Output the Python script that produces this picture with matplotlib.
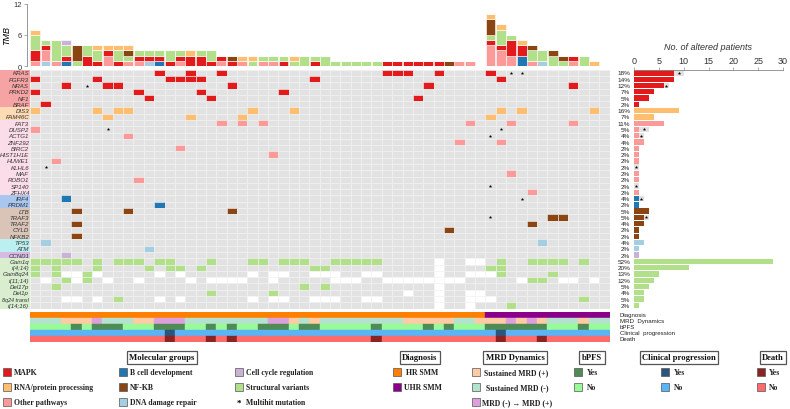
"""
Oncoprint of SMM patients: TMB, altered genes / structural variants, clinical tracks
"""
import matplotlib.pyplot as plt
from matplotlib.patches import Rectangle

plt.rcParams['font.family'] = ['Liberation Sans', 'DejaVu Sans']

W, H = 790, 410
fig = plt.figure(figsize=(7.9, 4.1), dpi=100, facecolor='white')


def px_axes(x0, y0, x1, y1):
    # box in pixels (origin top-left) -> figure axes
    return fig.add_axes([x0 / W, 1 - y1 / H, (x1 - x0) / W, (y1 - y0) / H])


# ---------------- data ----------------
n_patients = 56

genes = ['KRAS', 'FGFR3', 'NRAS', 'PRKD2', 'NF1', 'BRAF',
         'DIS3', 'FAM46C',
         'FAT3', 'DUSP2', 'ACTG1', 'ZNF292', 'BIRC2', 'HIST1H1E', 'HUWE1',
         'KLHL6', 'MAF', 'ROBO1', 'SP140', 'ZFHX4',
         'IRF4', 'PRDM1',
         'LTB', 'TRAF3', 'TRAF2', 'CYLD', 'NFKB2',
         'TP53', 'ATM',
         'CCND1',
         'Gain1q', 't(4;14)', 'Gain8q24', 't(11;14)', 'Del17p', 'Del1p',
         '8q24 transl', 't(14;16)']
gene_group = (['MAPK'] * 6 + ['RNA'] * 2 + ['Other'] * 12 + ['Bcell'] * 2 +
              ['NFKB'] * 5 + ['DNA'] * 2 + ['Cycle'] + ['SV'] * 8)

pct_labels = ['18%', '14%', '12%', '7%', '5%', '2%', '16%', '7%', '11%', '5%',
              '4%', '4%', '2%', '2%', '2%', '2%', '2%', '2%', '2%', '2%',
              '4%', '2%', '5%', '5%', '4%', '2%', '2%', '4%', '2%', '2%',
              '52%', '20%', '13%', '12%', '5%', '4%', '5%', '2%']

# altered patients (column index) per gene
hits = {
    'KRAS': [12, 15, 18, 34, 35, 36, 39, 44],
    'FGFR3': [0, 6, 13, 14, 15, 16, 27, 45],
    'NRAS': [3, 7, 8, 19, 38, 52],
    'PRKD2': [0, 10, 16, 24],
    'NF1': [11, 17, 37],
    'BRAF': [1],
    'DIS3': [0, 6, 8, 9, 21, 25, 45, 47, 54],
    'FAM46C': [7, 15, 20, 44],
    'FAT3': [18, 20, 22, 42, 46, 52],
    'DUSP2': [0],
    'ACTG1': [9],
    'ZNF292': [41, 45],
    'BIRC2': [14],
    'HIST1H1E': [23],
    'HUWE1': [2],
    'KLHL6': [],
    'MAF': [46],
    'ROBO1': [10],
    'SP140': [],
    'ZFHX4': [48],
    'IRF4': [3],
    'PRDM1': [12],
    'LTB': [4, 9, 19],
    'TRAF3': [50, 51],
    'TRAF2': [4, 48],
    'CYLD': [40],
    'NFKB2': [4],
    'TP53': [1, 49],
    'ATM': [11],
    'CCND1': [3],
    'Gain1q': [0, 1, 2, 3, 4, 6, 8, 9, 10, 12, 13, 17, 21, 22, 24, 25, 26,
               29, 30, 31, 32, 33, 45, 48, 49, 50, 51, 53],
    't(4;14)': [0, 2, 6, 11, 13, 14, 16, 27, 28, 44, 45],
    'Gain8q24': [0, 2, 5, 45, 50],
    't(11;14)': [3, 5, 48, 49],
    'Del17p': [2, 26, 28],
    'Del1p': [17, 23],
    '8q24 transl': [8, 53],
    't(14;16)': [46],
}

# multihit mutations: gene -> {patient: number of hits}
multihit = {
    'KRAS': {46: 3, 47: 2},
    'NRAS': {5: 2},
    'DUSP2': {7: 2, 45: 2},
    'ACTG1': {44: 2},
    'KLHL6': {1: 2},
    'SP140': {44: 2},
    'IRF4': {47: 2},
    'TRAF3': {44: 3},
}

# patients not evaluated (white cells)
not_tested = {
    'Gain1q': [39, 42, 43],
    't(4;14)': [39],
    'Gain8q24': [3, 4, 6, 12, 14, 21, 23, 24, 27, 28, 29, 32, 33, 39, 42, 43, 44],
    't(11;14)': [1, 4, 7, 10, 15, 17, 18, 19, 20, 23, 29, 30, 31, 34, 35, 36,
                 37, 38, 39, 40, 41, 47, 51, 52, 54],
    'Del17p': [39],
    'Del1p': [36, 39, 42, 43],
    '8q24 transl': [3, 4, 6, 12, 14, 21, 23, 24, 27, 28, 29, 32, 33, 39, 42, 43, 44],
    't(14;16)': [39, 42],
}

# clinical annotations
diagnosis = ['HR'] * 44 + ['UHR'] * 12
mrd = (['N'] * 3 + ['P'] * 3 + ['C'] + ['N'] * 3 + ['P'] * 2 + ['C'] * 3 +
       ['N'] * 8 + ['C'] * 2 + ['P', 'N', 'P'] + ['N'] * 8 + ['P'] * 5 +
       ['N'] * 2 + ['P'] * 3 + ['C', 'P', 'C', 'P'] + ['N'] * 3 + ['P'] + ['N'] * 2)
bpfs_yes = [4, 6, 7, 8, 12, 13, 14, 17, 19, 22, 23, 24, 26, 27, 33, 38, 40,
            44, 45, 46, 47, 48, 49, 53]
progression_yes = [13, 45]
death_yes = [13, 17, 19, 33, 45, 49]

# ---------------- styles ----------------
GROUP_COLOR = {'MAPK': '#E31A1C', 'RNA': '#FDBF6F', 'Other': '#FB9A99',
               'Bcell': '#1F78B4', 'NFKB': '#8B4513', 'DNA': '#A6CEE3',
               'Cycle': '#CAB2D6', 'SV': '#B2DF8A'}
GROUP_BAND = {'MAPK': '#F5A3A3', 'RNA': '#FCDAB4', 'Other': '#FBDDEA',
              'Bcell': '#A9C6EE', 'NFKB': '#D9C4B7', 'DNA': '#BCEFEF',
              'Cycle': '#D8B9E4', 'SV': '#D8EECF'}
TMB_ORDER = ['DNA', 'Other', 'Bcell', 'MAPK', 'SV', 'NFKB', 'RNA', 'Cycle']
BG = '#E2E2E2'
DIAG_COLOR = {'HR': '#FF7F00', 'UHR': '#8B008B'}
MRD_COLOR = {'P': '#FFCBA4', 'N': '#B3E2CF', 'C': '#DDA0DD'}
BPFS = ('#4E8B55', '#98FB98')
PROG = ('#2B557A', '#5AB4F8')
DEATH = ('#8B2323', '#FF6B6B')

n_genes = len(genes)
GX0, GX1, GY0, GY1 = 30, 609.5, 70.8, 309.5
XLIM = (-0.5, n_patients - 0.5)

# ---------------- TMB stacked bars ----------------
ax_tmb = px_axes(GX0, 4.5, GX1, 67)
tmb = {g: [0] * n_patients for g in TMB_ORDER}
for gene, grp in zip(genes, gene_group):
    for c in hits[gene]:
        tmb[grp][c] += 1
    for c, n in multihit.get(gene, {}).items():
        tmb[grp][c] += n
bottom = [0] * n_patients
for grp in TMB_ORDER:
    ax_tmb.bar(range(n_patients), tmb[grp], bottom=bottom, width=0.96,
               color=GROUP_COLOR[grp], edgecolor='white', linewidth=0.4)
    bottom = [b + v for b, v in zip(bottom, tmb[grp])]
ax_tmb.set_xlim(*XLIM)
ax_tmb.set_ylim(0, 12)
ax_tmb.set_yticks([0, 6, 12])
ax_tmb.set_xticks([])
for s in ['top', 'right', 'bottom']:
    ax_tmb.spines[s].set_visible(False)
ax_tmb.spines['left'].set_position(('outward', 2))
ax_tmb.spines['left'].set_color('#888888')
ax_tmb.spines['left'].set_linewidth(0.6)
ax_tmb.tick_params(axis='y', labelsize=5.5, length=2, width=0.5,
                   color='#888888', pad=1.5, labelcolor='#333333')
ax_tmb.set_ylabel('TMB', style='italic', fontsize=6.5, labelpad=2)
ax_tmb.patch.set_visible(False)

# ---------------- main grid ----------------
ax_g = px_axes(GX0, GY0, GX1, GY1)
ax_g.set_xlim(*XLIM)
ax_g.set_ylim(n_genes - 0.5, -0.5)
ax_g.axis('off')
for r, (gene, grp) in enumerate(zip(genes, gene_group)):
    na = not_tested.get(gene, [])
    mh = multihit.get(gene, {})
    for c in range(n_patients):
        face = BG
        if c in na:
            face = 'white'
        if c in hits[gene]:
            face = GROUP_COLOR[grp]
        ax_g.add_patch(Rectangle((c - 0.5, r - 0.5), 1, 1, facecolor=face,
                                 edgecolor='#F2F2F2', linewidth=0.4))
    for c in mh:
        ax_g.plot(c, r, marker='*', ms=2.6, color='black', mew=0)
    ax_g.text(n_patients + 1.5, r, pct_labels[r], ha='right', va='center',
              fontsize=4.6, color='#222222', clip_on=False)

# gene labels with group bands
ax_l = px_axes(0, GY0, GX0, GY1)
ax_l.set_xlim(0, 1)
ax_l.set_ylim(n_genes - 0.5, -0.5)
ax_l.axis('off')
for r, (gene, grp) in enumerate(zip(genes, gene_group)):
    ax_l.axhspan(r - 0.5, r + 0.5, color=GROUP_BAND[grp], lw=0)
    ax_l.text(0.97, r, gene, ha='right', va='center',
              fontsize=4.0 if len(gene) > 8 else 4.4,
              style='italic', color='#333333')

# ---------------- altered patients bar chart ----------------
ax_b = px_axes(634, GY0, 783, GY1)
single = [len(hits[g]) for g in genes]
multi = [len(multihit.get(g, {})) for g in genes]
colors = [GROUP_COLOR[g] for g in gene_group]
ax_b.barh(range(n_genes), single, height=0.85, color=colors)
ax_b.barh(range(n_genes), multi, left=single, height=0.85, color=BG)
for r, (s, m) in enumerate(zip(single, multi)):
    if m:
        ax_b.plot(s + m / 2, r, marker='*', ms=2.6, color='black', mew=0)
ax_b.set_xlim(0, 30)
ax_b.set_ylim(n_genes - 0.5, -0.5)
ax_b.set_xticks(range(0, 31, 5))
ax_b.set_yticks([])
ax_b.xaxis.set_ticks_position('top')
ax_b.xaxis.set_label_position('top')
for s in ['bottom', 'left', 'right']:
    ax_b.spines[s].set_visible(False)
ax_b.spines['top'].set_color('#888888')
ax_b.spines['top'].set_linewidth(0.6)
ax_b.tick_params(axis='x', labelsize=6.5, length=2, width=0.5,
                 color='#888888', pad=1.5, labelcolor='#333333')
ax_b.set_xlabel('No. of altered patients', style='italic', fontsize=6.5,
                labelpad=5, color='#333333')
ax_b.patch.set_visible(False)

# ---------------- clinical tracks ----------------
ax_a = px_axes(GX0, 312.5, GX1, 343)
ax_a.set_xlim(*XLIM)
ax_a.set_ylim(4.5, -0.5)
ax_a.axis('off')
tracks = [
    [DIAG_COLOR[d] for d in diagnosis],
    [MRD_COLOR[m] for m in mrd],
    [BPFS[0] if c in bpfs_yes else BPFS[1] for c in range(n_patients)],
    [PROG[0] if c in progression_yes else PROG[1] for c in range(n_patients)],
    [DEATH[0] if c in death_yes else DEATH[1] for c in range(n_patients)],
]
track_names = ['Diagnosis', 'MRD  Dynamics', 'bPFS', 'Clinical  progression', 'Death']
for r, row in enumerate(tracks):
    for c, col in enumerate(row):
        ax_a.add_patch(Rectangle((c - 0.5, r - 0.5), 1, 1, facecolor=col,
                                 edgecolor=col, linewidth=0.3))
    ax_a.text(n_patients + 0.5, r, track_names[r], ha='left', va='center',
              fontsize=4.4, color='#222222', clip_on=False)

# ---------------- legends ----------------
ax_leg = fig.add_axes([0, 0, 1, 1])
ax_leg.set_xlim(0, W)
ax_leg.set_ylim(H, 0)
ax_leg.axis('off')
SERIF = ['Liberation Serif', 'DejaVu Serif']


def leg_title(x, y, text):
    ax_leg.text(x, y, text, ha='center', va='center', fontsize=6.2,
                fontweight='bold', family=SERIF, color='#111111',
                bbox=dict(boxstyle='square,pad=0.3', facecolor='white',
                          edgecolor='#555555', linewidth=0.9))


def leg_item(x, y, color, text, dx=3):
    ax_leg.add_patch(Rectangle((x, y - 3.8), 7.5, 7.5, facecolor=color,
                               edgecolor='#555555', linewidth=0.5))
    ax_leg.text(x + 7.5 + dx, y, text, ha='left', va='center', fontsize=5.6,
                fontweight='bold', family=SERIF, color='#222222')


rows_y = [373, 388, 403]
leg_title(162, 358.5, 'Molecular groups')
for y, (g, t) in zip(rows_y, [('MAPK', 'MAPK'), ('RNA', 'RNA/protein processing'),
                              ('Other', 'Other pathways')]):
    leg_item(3, y, GROUP_COLOR[g], t)
for y, (g, t) in zip(rows_y, [('Bcell', 'B cell development'), ('NFKB', 'NF-KB'),
                              ('DNA', 'DNA damage repair')]):
    leg_item(119, y, GROUP_COLOR[g], t)
for y, (g, t) in zip(rows_y[:2], [('Cycle', 'Cell cycle regulation'),
                                  ('SV', 'Structural variants')]):
    leg_item(235, y, GROUP_COLOR[g], t)
ax_leg.text(239, rows_y[2] + 1, '*', ha='center', va='center', fontsize=6.5,
            fontweight='bold', family=SERIF)
ax_leg.text(246, rows_y[2], 'Multihit mutation', ha='left', va='center',
            fontsize=5.6, fontweight='bold', family=SERIF, color='#222222')

leg_title(420, 358.5, 'Diagnosis')
leg_item(393, rows_y[0], DIAG_COLOR['HR'], 'HR SMM', dx=6)
leg_item(393, rows_y[1], DIAG_COLOR['UHR'], 'UHR SMM', dx=4)

leg_title(515, 358.5, 'MRD Dynamics')
leg_item(472, rows_y[0], MRD_COLOR['P'], 'Sustained MRD (+)', dx=4)
leg_item(472, rows_y[1], MRD_COLOR['N'], 'Sustained MRD (-)', dx=6)
leg_item(472, rows_y[2], MRD_COLOR['C'], 'MRD (-) \u2192 MRD (+)', dx=3)

leg_title(592, 358.5, 'bPFS')
leg_item(574, rows_y[0], BPFS[0], 'Yes', dx=5)
leg_item(574, rows_y[1], BPFS[1], 'No', dx=5)

leg_title(679, 358.5, 'Clinical progression')
leg_item(661, rows_y[0], PROG[0], 'Yes', dx=5)
leg_item(661, rows_y[1], PROG[1], 'No', dx=5)

leg_title(773, 358.5, 'Death')
leg_item(757, rows_y[0], DEATH[0], 'Yes', dx=4)
leg_item(757, rows_y[1], DEATH[1], 'No', dx=4)

fig.savefig('out.png', dpi=100, facecolor='white')
